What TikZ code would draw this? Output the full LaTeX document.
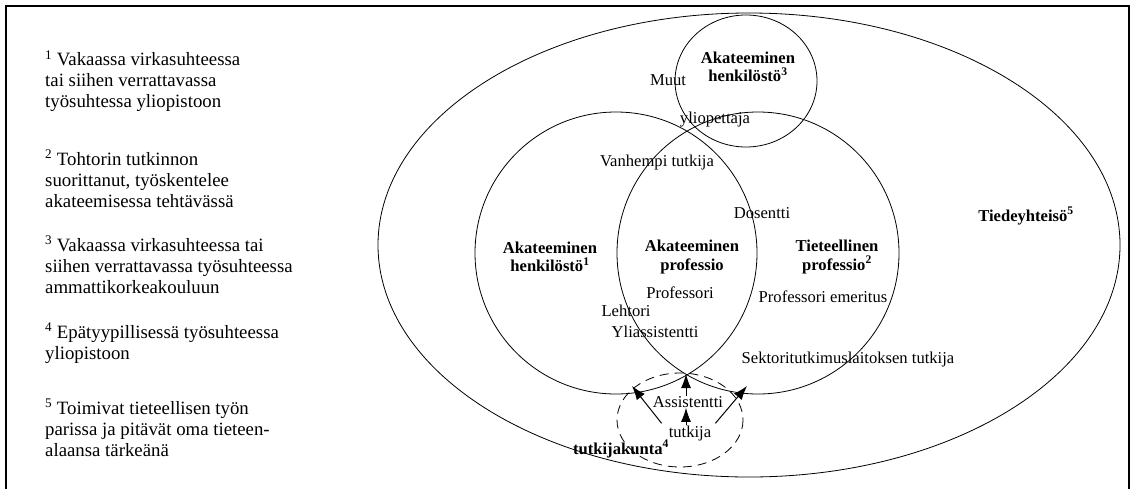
\documentclass[tikz,border=0pt]{standalone}
\usepackage{fontspec}
\setmainfont{Liberation Serif}
\usetikzlibrary{arrows.meta}
\begin{document}
\begin{tikzpicture}[x=1pt,y=-1pt,
  lbl/.style={font=\fontsize{16.6}{18.5}\selectfont, inner sep=0pt, align=center},
  blbl/.style={lbl, font=\fontsize{16.6}{18.5}\selectfont\bfseries},
  leg/.style={font=\fontsize{18.8}{21}\selectfont, align=left, anchor=base west, inner sep=0pt},
  ring/.style={line width=0.8pt},
  dashring/.style={line width=0.8pt, dash pattern=on 9pt off 6pt},
  arr/.style={line width=1pt, -{Latex[length=14pt,width=10pt]}}]
\useasboundingbox (0,0) rectangle (1134,488);
\draw[line width=1.2pt] (6,6) rectangle (1129,500);

% legend (anchor base = baseline of the last line)
\node[leg] (n1) at (45,107.5) {\textsuperscript{1} Vakaassa virkasuhteessa\\tai siihen verrattavassa\\työsuhtessa yliopistoon};
\node[leg] (n2) at (45,207) {\textsuperscript{2} Tohtorin tutkinnon\\suorittanut, työskentelee\\akateemisessa tehtävässä};
\node[leg] (n3) at (45,293) {\textsuperscript{3} Vakaassa virkasuhteessa tai\\siihen verrattavassa työsuhteessa\\ammattikorkeakouluun};
\node[leg] (n4) at (45,359) {\textsuperscript{4} Epätyypillisessä työsuhteessa\\yliopistoon};
\node[leg] (n5) at (45,456) {\textsuperscript{5} Toimivat tieteellisen työn\\parissa ja pitävät oma tieteen-\\alaansa tärkeänä};

% sets
\draw[ring] (749,245) ellipse [x radius=371, y radius=232];
\draw[ring] (616,253) circle [radius=141];
\draw[ring] (758,253) circle [radius=141];
\draw[ring] (746,81) ellipse [x radius=71, y radius=66];
\draw[dashring] (680,420) ellipse [x radius=63, y radius=47];

% labels
\node[blbl] (h3) at (748,67) {Akateeminen\\henkilöstö\textsuperscript{3}};
\node[lbl] (muut) at (668,80) {Muut};
\node[lbl] (ylio) at (715,120) {yliopettaja};
\node[lbl] (vanh) at (657,163) {Vanhempi tutkija};
\node[lbl] (dos) at (762,213) {Dosentti};
\node[blbl] (h1) at (550,257) {Akateeminen\\henkilöstö\textsuperscript{1}};
\node[blbl] (ap) at (692,257) {Akateeminen\\professio};
\node[blbl] (tp) at (837,257) {Tieteellinen\\professio\textsuperscript{2}};
\node[blbl] (ty) at (1026,216) {Tiedeyhteisö\textsuperscript{5}};
\node[lbl] (prof) at (680,293) {Professori};
\node[lbl] (em) at (823,297) {Professori emeritus};
\node[lbl] (leh) at (626,311) {Lehtori};
\node[lbl] (yass) at (655,332) {Yliassistentti};
\node[lbl] (sek) at (848,359) {Sektoritutkimuslaitoksen tutkija};
\node[lbl] (asst) at (688,402) {Assistentti};
\node[lbl] (tut) at (690,433) {tutkija};
\node[blbl] (tk) at (621,449) {tutkijakunta\textsuperscript{4}};

% arrows
\coordinate (pL) at (632,386);
\coordinate (pM) at (686,374);
\coordinate (pR) at (747,386);
\draw[arr] ([shift={(-7,-2)}]tut.north west) -- (pL);
\draw[arr] ([shift={(4,-2)}]tut.north east) -- (pR);
\draw[arr] ([xshift=-2pt]asst.north) -- (pM);
\draw[arr] ([xshift=-4pt]tut.north) -- ([xshift=-2pt]asst.south);
\end{tikzpicture}
\end{document}
